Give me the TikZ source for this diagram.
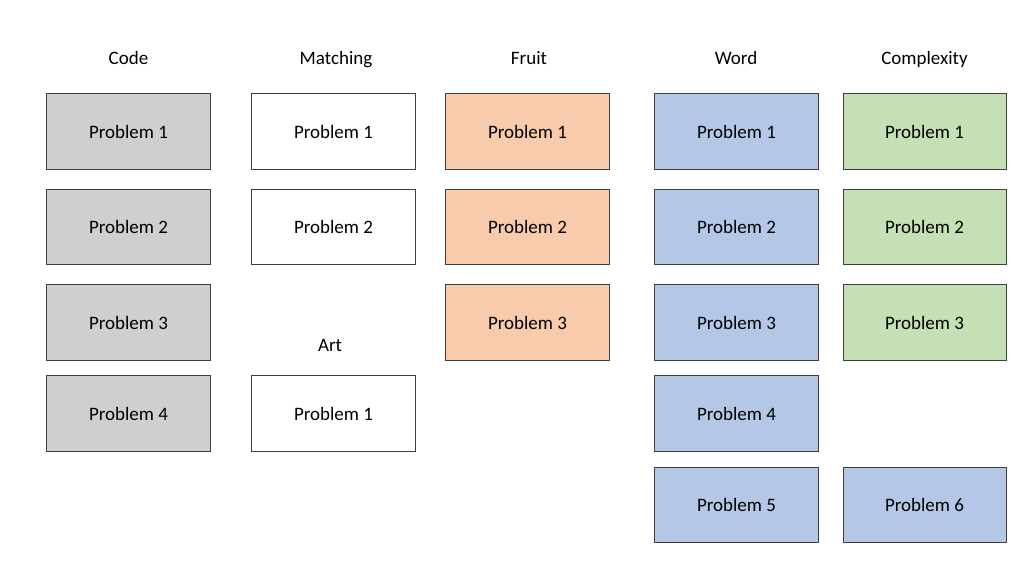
\documentclass[tikz,border=0pt]{standalone}
\usepackage{fontspec}
\setmainfont{Carlito}
\definecolor{codegray}{HTML}{D0CECE}
\definecolor{fruitorange}{HTML}{F8CBAD}
\definecolor{wordblue}{HTML}{B4C7E7}
\definecolor{cplxgreen}{HTML}{C5E0B4}
\definecolor{edgegray}{HTML}{3F3F3F}
\begin{document}
\begin{tikzpicture}[x=0.025cm, y=-0.025cm, every node/.style={font=\fontsize{13.5}{16}\selectfont}]
\tikzset{
  prob/.style={rectangle, draw=edgegray, line width=0.7pt, minimum width=4.075cm, minimum height=1.875cm, inner sep=0pt},
  head/.style={inner sep=1pt, text height=1.6ex, text depth=0.4ex}
}
\useasboundingbox (0,0) rectangle (1024,576);

% --- Code ---
\node[head] (hcode) at (128.5,60) {Code};
\node[prob,fill=codegray] (c1) at (128.5,131.5) {Problem 1};
\node[prob,fill=codegray] (c2) at (128.5,227) {Problem 2};
\node[prob,fill=codegray] (c3) at (128.5,322.5) {Problem 3};
\node[prob,fill=codegray] (c4) at (128.5,413.5) {Problem 4};

% --- Matching / Art ---
\node[head] (hmatch) at (336,60) {Matching};
\node[prob,fill=white] (m1) at (333.5,131.5) {Problem 1};
\node[prob,fill=white] (m2) at (333.5,227) {Problem 2};
\node[head] (hart) at (330,347) {Art};
\node[prob,fill=white] (a1) at (333.5,413.5) {Problem 1};

% --- Fruit ---
\node[head] (hfruit) at (529,60) {Fruit};
\node[prob,fill=fruitorange] (f1) at (527.5,131.5) {Problem 1};
\node[prob,fill=fruitorange] (f2) at (527.5,227) {Problem 2};
\node[prob,fill=fruitorange] (f3) at (527.5,322.5) {Problem 3};

% --- Word ---
\node[head] (hword) at (736,60) {Word};
\node[prob,fill=wordblue] (w1) at (736.5,131.5) {Problem 1};
\node[prob,fill=wordblue] (w2) at (736.5,227) {Problem 2};
\node[prob,fill=wordblue] (w3) at (736.5,322.5) {Problem 3};
\node[prob,fill=wordblue] (w4) at (736.5,413.5) {Problem 4};
\node[prob,fill=wordblue] (w5) at (736.5,504.5) {Problem 5};

% --- Complexity ---
\node[head] (hcplx) at (924.5,60) {Complexity};
\node[prob,fill=cplxgreen] (x1) at (924.5,131.5) {Problem 1};
\node[prob,fill=cplxgreen] (x2) at (924.5,227) {Problem 2};
\node[prob,fill=cplxgreen] (x3) at (924.5,322.5) {Problem 3};
\node[prob,fill=wordblue] (x6) at (924.5,504.5) {Problem 6};
\end{tikzpicture}
\end{document}
